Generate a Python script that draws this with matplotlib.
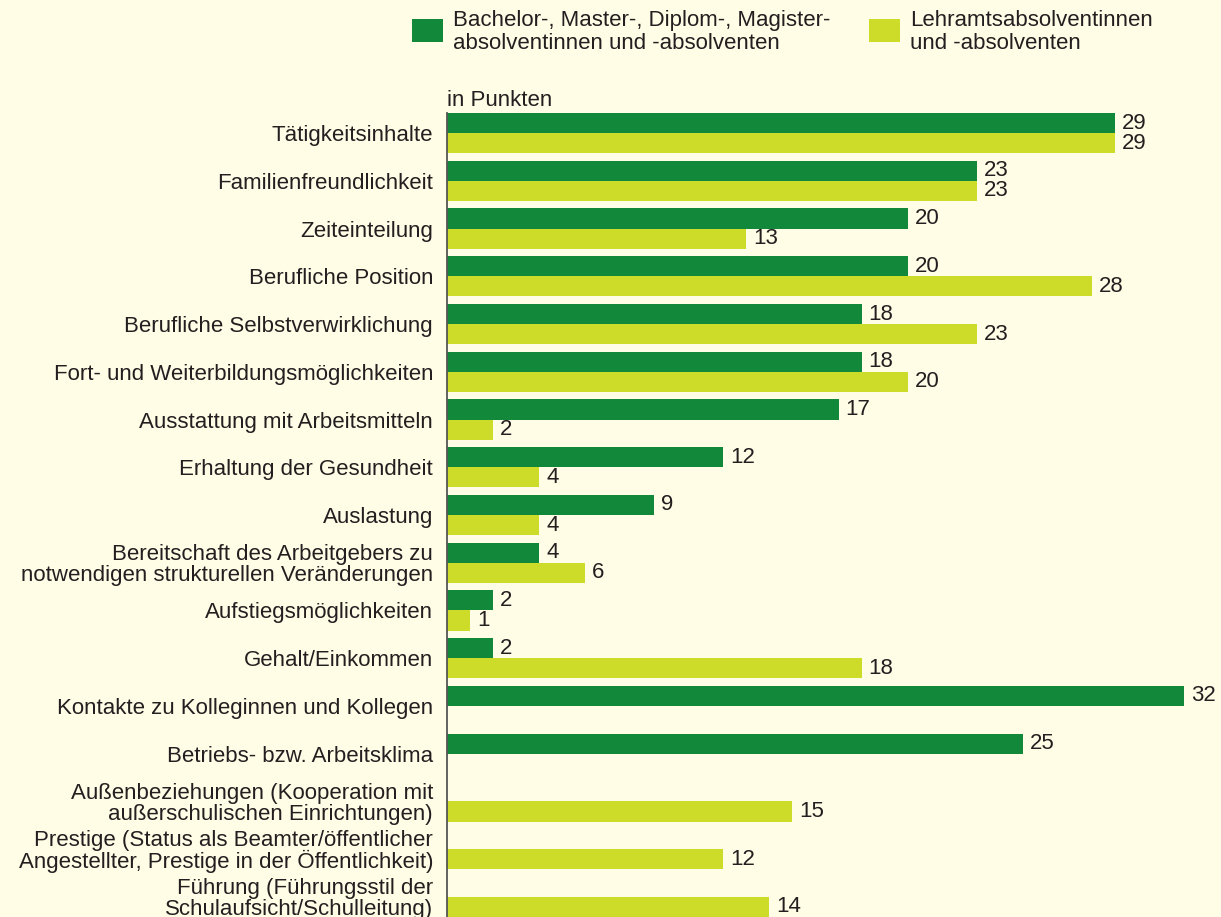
import matplotlib.pyplot as plt
import numpy as np

categories = [
    "Tätigkeitsinhalte",
    "Familienfreundlichkeit",
    "Zeiteinteilung",
    "Berufliche Position",
    "Berufliche Selbstverwirklichung",
    "Fort- und Weiterbildungsmöglichkeiten",
    "Ausstattung mit Arbeitsmitteln",
    "Erhaltung der Gesundheit",
    "Auslastung",
    "Bereitschaft des Arbeitgebers zu\nnotwendigen strukturellen Veränderungen",
    "Aufstiegsmöglichkeiten",
    "Gehalt/Einkommen",
    "Kontakte zu Kolleginnen und Kollegen",
    "Betriebs- bzw. Arbeitsklima",
    "Außenbeziehungen (Kooperation mit\naußerschulischen Einrichtungen)",
    "Prestige (Status als Beamter/öffentlicher\nAngestellter, Prestige in der Öffentlichkeit)",
    "Führung (Führungsstil der\nSchulaufsicht/Schulleitung)",
]
bachelor = [29, 23, 20, 20, 18, 18, 17, 12, 9, 4, 2, 2, 32, 25, None, None, None]
lehramt = [29, 23, 13, 28, 23, 20, 2, 4, 4, 6, 1, 18, None, None, 15, 12, 14]

legend_labels = ["Bachelor-, Master-, Diplom-, Magister-\nabsolventinnen und -absolventen",
                 "Lehramtsabsolventinnen\nund -absolventen"]

dark = "#12893a"
light = "#ccdc29"
bg = "#fffde6"
txt = "#231f20"

plt.rcParams["font.family"] = ["Liberation Sans", "DejaVu Sans"]
fs = 16

fig = plt.figure(figsize=(12.21, 9.17), dpi=100, facecolor=bg)
ax = fig.add_axes([447 / 1221, 0.0, 1 - 447 / 1221, (917 - 113) / 917])
ax.set_facecolor(bg)

h = 0.42
y = np.arange(len(categories))
for i in range(len(categories)):
    if bachelor[i] is not None:
        ax.barh(y[i] - h / 2, bachelor[i], height=h, color=dark, linewidth=0)
        ax.text(bachelor[i] + 0.3, y[i] - h / 2, str(bachelor[i]), va="center",
                ha="left", fontsize=fs, color=txt)
    if lehramt[i] is not None:
        ax.barh(y[i] + h / 2, lehramt[i], height=h, color=light, linewidth=0)
        ax.text(lehramt[i] + 0.3, y[i] + h / 2, str(lehramt[i]), va="center",
                ha="left", fontsize=fs, color=txt)

ax.set_xlim(0, (1221 - 447) / 23.03)
ax.set_ylim(len(categories) - 1 + h, -h)
ax.set_yticks(y)
ax.set_yticklabels(categories, fontsize=fs, color=txt, linespacing=0.98)
ax.tick_params(axis="y", length=0, pad=10)
ax.set_xticks([])
for s in ["top", "right", "bottom"]:
    ax.spines[s].set_visible(False)
ax.spines["left"].set_color("#555555")
ax.spines["left"].set_linewidth(1.3)

fig.text(447 / 1221, 1 - 101 / 917, "in Punkten", fontsize=fs, color=txt,
         ha="left", va="center")

# legend drawn by hand
for x0, col, lab in [(412, dark, legend_labels[0]), (869, light, legend_labels[1])]:
    fig.patches.append(plt.Rectangle((x0 / 1221, 1 - 42 / 917), 31 / 1221, 23 / 917,
                                     transform=fig.transFigure, color=col, linewidth=0))
    fig.text((x0 + 41) / 1221, 1 - 32 / 917, lab, fontsize=fs, color=txt,
             ha="left", va="center", linespacing=1.08)

fig.savefig("out.png", dpi=100, facecolor=bg)
